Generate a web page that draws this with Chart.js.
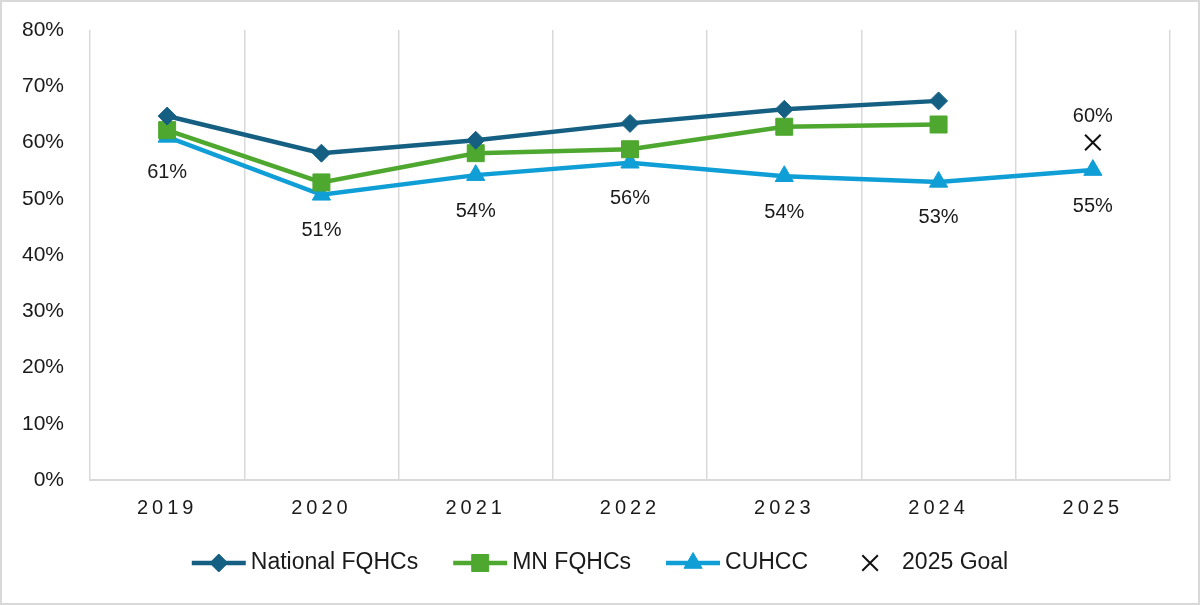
<!DOCTYPE html>
<html><head><meta charset="utf-8">
<script src="https://cdn.jsdelivr.net/npm/chart.js@4.4.1/dist/chart.umd.min.js"></script>
<style>html,body{margin:0;padding:0;background:#fff;}canvas{display:block;}</style>
</head><body>
<canvas id="c" width="1200" height="605"></canvas>
<script>
const years = ['2019', '2020', '2021', '2022', '2023', '2024', '2025'];
const nationalFQHCs = [64.7, 58.1, 60.4, 63.4, 65.9, 67.4, null];
const mnFQHCs = [62.2, 52.9, 58.1, 58.8, 62.8, 63.2, null];
const cuhcc = [61.0, 50.7, 54.2, 56.4, 54.0, 53.0, 55.1];
const goal2025 = [null, null, null, null, null, null, 60];
const cuhccLabels = ['61%', '51%', '54%', '56%', '54%', '53%', '55%'];
const goalLabels = [null, null, null, null, null, null, '60%'];
const yTickLabels = ['0%', '10%', '20%', '30%', '40%', '50%', '60%', '70%', '80%'];
const seriesNames = ['National FQHCs', 'MN FQHCs', 'CUHCC', '2025 Goal'];

const C_NAT = '#156082', C_MN = '#4EA72E', C_CU = '#0F9ED5', C_GOAL = '#111111';
const TXT = '#1a1a1a';
const FONT = "'Liberation Sans', Arial, sans-serif";

const labelPlugin = {
  id: 'valueLabels',
  afterDatasetsDraw(chart) {
    const ctx = chart.ctx;
    ctx.save();
    ctx.font = '20px ' + FONT;
    ctx.fillStyle = TXT;
    ctx.textAlign = 'center';
    ctx.textBaseline = 'middle';
    const m2 = chart.getDatasetMeta(2);
    m2.data.forEach((p, i) => { if (cuhccLabels[i]) ctx.fillText(cuhccLabels[i], p.x, p.y + 36); });
    const m3 = chart.getDatasetMeta(3);
    m3.data.forEach((p, i) => { if (goalLabels[i]) ctx.fillText(goalLabels[i], p.x, p.y - 26); });
    ctx.restore();
  },
  afterDraw(chart) {
    const ctx = chart.ctx;
    ctx.save();
    ctx.strokeStyle = '#d9d9d9';
    ctx.lineWidth = 2;
    ctx.strokeRect(1, 1, chart.width - 2, chart.height - 2);
    ctx.font = '23px ' + FONT;
    ctx.textBaseline = 'middle';
    ctx.textAlign = 'left';
    const sample = 54, gapT = 5, gapI = 35, y = 563;
    const widths = chart.data.datasets.map(d => ctx.measureText(d.label).width);
    let total = 0;
    widths.forEach((w, i) => { total += sample + gapT + w + (i < widths.length - 1 ? gapI : 0); });
    let x = (chart.width - total) / 2;
    chart.data.datasets.forEach((d, i) => {
      if (d.showLine !== false) {
        ctx.strokeStyle = d.borderColor;
        ctx.lineWidth = d.borderWidth;
        ctx.beginPath(); ctx.moveTo(x, y); ctx.lineTo(x + sample, y); ctx.stroke();
      }
      ctx.fillStyle = d.pointBackgroundColor;
      ctx.strokeStyle = d.pointBorderColor;
      ctx.lineWidth = d.pointBorderWidth;
      Chart.helpers.drawPoint(ctx, {
        pointStyle: d.pointStyle, rotation: 0, radius: d.pointRadius,
        borderWidth: d.pointBorderWidth
      }, x + sample / 2, y);
      ctx.fillStyle = TXT;
      ctx.fillText(d.label, x + sample + gapT, y);
      x += sample + gapT + widths[i] + gapI;
    });
    ctx.restore();
  }
};

function spacedLabels(scale) {
  if (scale._spaced) return;
  scale._spaced = true;
  const orig = scale.drawLabels.bind(scale);
  scale.drawLabels = function (area) {
    this.ctx.save();
    this.ctx.letterSpacing = '4px';
    orig(area);
    this.ctx.restore();
  };
}

const chart = new Chart(document.getElementById('c'), {
  type: 'line',
  data: {
    labels: years,
    datasets: [
      { label: seriesNames[0], data: nationalFQHCs, borderColor: C_NAT, backgroundColor: C_NAT,
        borderWidth: 4.5, pointStyle: 'rectRot', pointRadius: 9, pointBorderWidth: 1,
        pointBackgroundColor: C_NAT, pointBorderColor: C_NAT },
      { label: seriesNames[1], data: mnFQHCs, borderColor: C_MN, backgroundColor: C_MN,
        borderWidth: 4.5, pointStyle: 'rect', pointRadius: 12, pointBorderWidth: 1,
        pointBackgroundColor: C_MN, pointBorderColor: C_MN },
      { label: seriesNames[2], data: cuhcc, borderColor: C_CU, backgroundColor: C_CU,
        borderWidth: 4.5, pointStyle: 'triangle', pointRadius: 10.5, pointBorderWidth: 1,
        pointBackgroundColor: C_CU, pointBorderColor: C_CU },
      { label: seriesNames[3], data: goal2025, borderColor: C_GOAL, backgroundColor: C_GOAL,
        showLine: false, borderWidth: 2, pointStyle: 'crossRot', pointRadius: 11, pointBorderWidth: 2,
        pointBackgroundColor: C_GOAL, pointBorderColor: C_GOAL }
    ]
  },
  options: {
    responsive: false,
    animation: false,
    spanGaps: false,
    layout: { padding: { top: 30, right: 30, left: 0, bottom: 0 } },
    plugins: { legend: { display: false }, tooltip: { enabled: false } },
    scales: {
      x: {
        offset: true,
        grid: { offset: true, color: '#d9d9d9', lineWidth: 1.5, drawTicks: false },
        border: { color: '#d9d9d9', width: 2 },
        ticks: { color: TXT, font: { family: FONT, size: 20 }, padding: 16, maxRotation: 0 },
        afterFit(s) { s.height = 125; s.paddingLeft = 0; s.paddingRight = 0; },
        afterBuildTicks(s) { spacedLabels(s); }
      },
      y: {
        min: 0, max: 80,
        grid: { display: false, drawTicks: false },
        border: { display: false },
        ticks: { stepSize: 10, color: TXT, font: { family: FONT, size: 21 }, padding: 26,
          callback: (v) => yTickLabels[Math.round(v / 10)] },
        afterFit(s) { s.width = 90; s.paddingTop = 0; s.paddingBottom = 0; }
      }
    }
  },
  plugins: [labelPlugin]
});
</script>
</body></html>
